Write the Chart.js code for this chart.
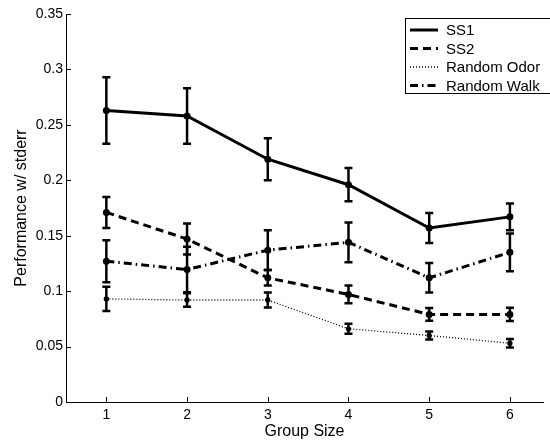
<!DOCTYPE html>
<html>
<head>
<meta charset="utf-8">
<script src="https://cdn.jsdelivr.net/npm/chart.js@4"></script>
<style>
  body { margin: 0; background: #fff; }
  #wrap { width: 550px; height: 440px; }
</style>
</head>
<body>
<div id="wrap"><canvas id="line-chart" width="550" height="440"></canvas></div>
<script>
// group sizes on the x axis
var groupSize = [1, 2, 3, 4, 5, 6];
var yTicks = [0, 0.05, 0.1, 0.15, 0.2, 0.25, 0.3, 0.35];

// means and standard errors
var ss1Mean  = [0.263, 0.258, 0.219, 0.196, 0.157, 0.167];
var ss1Err   = [0.030, 0.025, 0.019, 0.015, 0.0135, 0.012];
var ss2Mean  = [0.171, 0.147, 0.112, 0.097, 0.079, 0.079];
var ss2Err   = [0.014, 0.014, 0.007, 0.008, 0.0057, 0.006];
var odorMean = [0.093, 0.092, 0.092, 0.066, 0.060, 0.053];
var odorErr  = [0.011, 0.006, 0.0068, 0.0045, 0.0036, 0.0038];
var walkMean = [0.127, 0.1195, 0.137, 0.144, 0.112, 0.135];
var walkErr  = [0.019, 0.0206, 0.018, 0.018, 0.0133, 0.017];

var FONT = "'Liberation Sans', Arial, sans-serif";

function pts(means) {
  return groupSize.map(function (g, i) { return { x: g, y: means[i] }; });
}

// vertical error bars with caps, drawn through the scales
var errorBars = {
  id: 'errorBars',
  afterDatasetsDraw: function (chart) {
    var ctx = chart.ctx, xs = chart.scales.x, ys = chart.scales.y;
    ctx.save();
    ctx.strokeStyle = '#000';
    ctx.lineWidth = 2.5;
    ctx.setLineDash([]);
    chart.data.datasets.forEach(function (ds) {
      ds.means.forEach(function (m, i) {
        var x = xs.getPixelForValue(groupSize[i]);
        var top = ys.getPixelForValue(m + ds.errs[i]);
        var bot = ys.getPixelForValue(m - ds.errs[i]);
        ctx.beginPath();
        ctx.moveTo(x, top); ctx.lineTo(x, bot);
        ctx.moveTo(x - 4, top); ctx.lineTo(x + 4, top);
        ctx.moveTo(x - 4, bot); ctx.lineTo(x + 4, bot);
        ctx.stroke();
      });
    });
    ctx.restore();
  }
};

// inward tick marks + boxed legend, matlab style
var matlabBits = {
  id: 'matlabBits',
  afterDraw: function (chart) {
    var ctx = chart.ctx, xs = chart.scales.x, ys = chart.scales.y;
    var a = chart.chartArea;
    ctx.save();
    ctx.strokeStyle = '#000';
    ctx.lineWidth = 1;
    ctx.beginPath();
    groupSize.forEach(function (g) {
      var x = Math.round(xs.getPixelForValue(g)) + 0.5;
      ctx.moveTo(x, a.bottom); ctx.lineTo(x, a.bottom - 5);
    });
    yTicks.forEach(function (v) {
      var y = Math.round(ys.getPixelForValue(v)) + 0.5;
      ctx.moveTo(a.left, y); ctx.lineTo(a.left + 5, y);
    });
    ctx.stroke();

    // legend box
    ctx.fillStyle = '#fff';
    ctx.fillRect(405, 18, 150, 75);
    ctx.strokeRect(405.5, 18.5, 150, 75);
    ctx.font = '15px ' + FONT;
    ctx.textBaseline = 'middle';
    ctx.fillStyle = '#000';
    var rows = [30, 48.5, 67, 85.5];
    chart.data.datasets.forEach(function (ds, i) {
      ctx.beginPath();
      ctx.lineWidth = ds.borderWidth;
      ctx.setLineDash(ds.borderDash || []);
      ctx.moveTo(410, rows[i]); ctx.lineTo(438, rows[i]);
      ctx.stroke();
      ctx.fillText(ds.label, 446, rows[i] + 1);
    });
    ctx.restore();
  }
};

new Chart(document.getElementById('line-chart'), {
  type: 'line',
  data: {
    datasets: [{
        label: 'SS1',
        data: pts(ss1Mean), means: ss1Mean, errs: ss1Err,
        borderColor: '#000', backgroundColor: '#000',
        borderWidth: 3
      }, {
        label: 'SS2',
        data: pts(ss2Mean), means: ss2Mean, errs: ss2Err,
        borderColor: '#000', backgroundColor: '#000',
        borderWidth: 3, borderDash: [8, 5]
      }, {
        label: 'Random Odor',
        data: pts(odorMean), means: odorMean, errs: odorErr,
        borderColor: '#000', backgroundColor: '#000',
        borderWidth: 1.3, borderDash: [1, 2]
      }, {
        label: 'Random Walk',
        data: pts(walkMean), means: walkMean, errs: walkErr,
        borderColor: '#000', backgroundColor: '#000',
        borderWidth: 3, borderDash: [8, 4, 1.5, 4]
      }
    ]
  },
  options: {
    responsive: false,
    animation: false,
    events: [],
    layout: { padding: { top: 14, right: 0, left: 0, bottom: 0 } },
    elements: {
      line: { tension: 0, borderCapStyle: 'butt' },
      point: { radius: 2, borderWidth: 0, pointStyle: 'circle' }
    },
    plugins: {
      legend: { display: false },
      tooltip: { enabled: false }
    },
    scales: {
      x: {
        type: 'linear',
        min: 0.5,
        max: 6.41,
        afterBuildTicks: function (s) { s.ticks = groupSize.map(function (v) { return { value: v }; }); },
        afterFit: function (s) { s.height = 38; },
        grid: { display: false, drawTicks: false },
        border: { display: true, color: '#000', width: 1 },
        ticks: { color: '#000', padding: 5, font: { family: FONT, size: 14 } },
        title: {
          display: true, text: 'Group Size', color: '#000',
          font: { family: FONT, size: 16, lineHeight: 1.1 },
          padding: { top: 0, bottom: 0 }
        }
      },
      y: {
        min: 0,
        max: 0.35,
        afterBuildTicks: function (s) { s.ticks = yTicks.map(function (v) { return { value: v }; }); },
        afterFit: function (s) { s.width = 66; },
        grid: { display: false, drawTicks: false },
        border: { display: true, color: '#000', width: 1 },
        ticks: {
          color: '#000', padding: 3, font: { family: FONT, size: 14 },
          callback: function (v) { return String(+v.toFixed(2)); }
        },
        title: {
          display: true, text: 'Performance w/ stderr', color: '#000',
          font: { family: FONT, size: 16, lineHeight: 1.2 },
          padding: { top: 12, bottom: 0 }
        }
      }
    }
  },
  plugins: [errorBars, matlabBits]
});
</script>
</body>
</html>
